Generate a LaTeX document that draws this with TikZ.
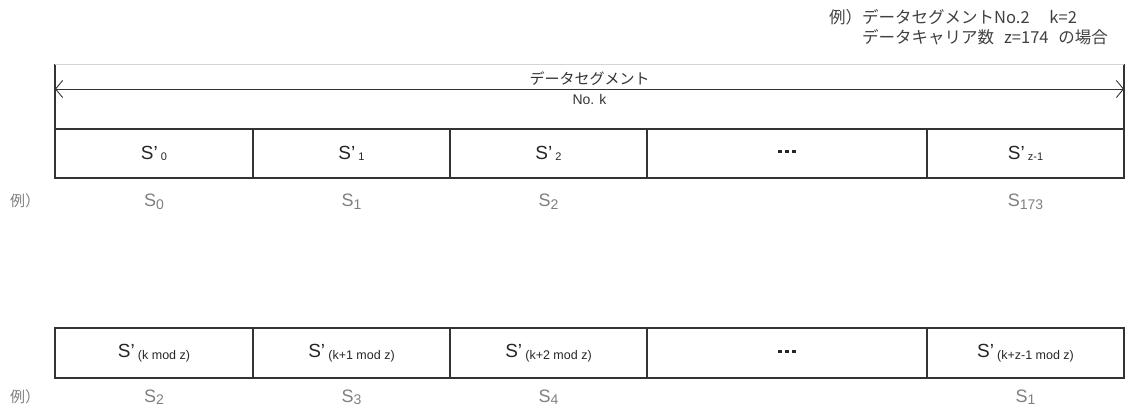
\documentclass[tikz,border=0pt]{standalone}
\usepackage{fontspec}
\setmainfont{Liberation Sans}
\newfontfamily\jp{Noto Sans CJK JP}
\usetikzlibrary{positioning,arrows.meta}

\definecolor{linegray}{HTML}{333333}
\definecolor{labgray}{HTML}{7F7F7F}
\definecolor{rulegray}{HTML}{D4D4D4}
\definecolor{notegray}{HTML}{404040}

% S' with a small lowered index
\newcommand{\sprim}[2][11]{S’\,{\fontsize{#1}{#1}\selectfont\raisebox{-1.5pt}{#2}}}
\newcommand{\ssub}[1]{S{\fontsize{14}{14}\selectfont\raisebox{-2pt}{#1}}}
\newcommand{\dotsbar}{\rule[3pt]{4pt}{3pt}\hspace{3pt}\rule[3pt]{4pt}{3pt}\hspace{3pt}\rule[3pt]{4pt}{3pt}}

\tikzset{
  cell/.style={draw=linegray, line width=1.2pt, minimum height=49pt,
    inner sep=0pt, outer sep=0pt, text=black!85,
    font=\fontsize{19}{19}\selectfont},
  exlabel/.style={text=labgray, inner sep=0pt, font=\fontsize{18}{18}\selectfont},
  segbox/.style={minimum width=1069pt, minimum height=65pt, inner sep=0pt, outer sep=0pt},
}

\begin{document}
\begin{tikzpicture}[x=1pt,y=-1pt]
  \useasboundingbox (0,0) rectangle (1126,406);

  % note
  \node[anchor=north west, align=left, inner sep=0pt, text=notegray,
    font=\jp\fontsize{16.5}{20}\selectfont] (note) at (829,9)
    {例）データセグメントNo.2\hspace{1.2em}k=2\\\phantom{例）}データキャリア数\hspace{0.6em}z=174\hspace{0.6em}の場合};

  % upper row
  \node[cell, minimum width=198pt] (a0) at (154,153.5) {\sprim{0}};
  \node[cell, minimum width=197pt, right=0pt of a0] (a1) {\sprim{1}};
  \node[cell, minimum width=197pt, right=0pt of a1] (a2) {\sprim{2}};
  \node[cell, minimum width=280pt, right=0pt of a2] (a3) {\dotsbar};
  \node[cell, minimum width=197pt, right=0pt of a3] (a4) {\sprim{z-1}};

  \node[segbox, anchor=south west] (seg) at (a0.north west) {};
  \draw[linegray, line width=1.2pt] (seg.south west) -- (seg.north west);
  \draw[linegray, line width=1.2pt] (seg.south east) -- (seg.north east);
  \draw[rulegray, line width=0.8pt] (seg.north west) -- (seg.north east);
  \coordinate (aL) at ([yshift=-25pt]seg.north west);
  \coordinate (aR) at ([yshift=-25pt]seg.north east);
  \draw[linegray, line width=0.9pt,
    {Straight Barb[length=7pt,width=17pt]}-{Straight Barb[length=7pt,width=17pt]}]
    (aL) -- (aR)
    node[midway, above=3pt, inner sep=0pt, font=\jp\fontsize{15}{15}\selectfont] (segname) {データセグメント}
    node[midway, below=5pt, inner sep=0pt, font=\fontsize{14}{14}\selectfont] (segno) {No. k};

  \foreach \c/\t in {a0/0, a1/1, a2/2, a4/173}
    \node[exlabel, anchor=base] (l\c) at ([yshift=-29pt]\c.south) {\ssub{\t}};
  \node[exlabel, anchor=base, font=\jp\fontsize{15}{15}\selectfont] (exa) at ([yshift=-29pt]25,178) {例）};

  % lower row
  \node[cell, minimum width=198pt, minimum height=50pt] (b0) at (154,353) {\sprim[12.5]{(k mod z)}};
  \node[cell, minimum width=197pt, minimum height=50pt, right=0pt of b0] (b1) {\sprim[12.5]{(k+1 mod z)}};
  \node[cell, minimum width=197pt, minimum height=50pt, right=0pt of b1] (b2) {\sprim[12.5]{(k+2 mod z)}};
  \node[cell, minimum width=280pt, minimum height=50pt, right=0pt of b2] (b3) {\dotsbar};
  \node[cell, minimum width=197pt, minimum height=50pt, right=0pt of b3] (b4) {\sprim[12.5]{(k+z-1 mod z)}};

  \foreach \c/\t in {b0/2, b1/3, b2/4, b4/1}
    \node[exlabel, anchor=base] (l\c) at ([yshift=-24pt]\c.south) {\ssub{\t}};
  \node[exlabel, anchor=base, font=\jp\fontsize{15}{15}\selectfont] (exb) at ([yshift=-24pt]25,378) {例）};
\end{tikzpicture}
\end{document}
